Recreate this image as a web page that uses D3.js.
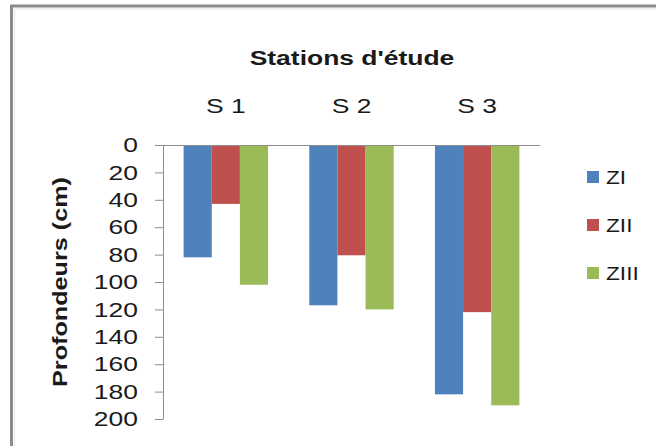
<!DOCTYPE html>
<html><head><meta charset="utf-8">
<script src="https://cdn.jsdelivr.net/npm/d3@7"></script>
<style>body{margin:0;background:#fff}svg{display:block}text{font-family:"Liberation Sans",Arial,sans-serif;fill:#1a1a1a}</style>
</head><body>
<script>
const categories = ["S 1", "S 2", "S 3"];
const seriesNames = ["ZI", "ZII", "ZIII"];
const ZI = [82, 117, 182];
const ZII = [43, 80.5, 122];
const ZIII = [102, 120, 190];
const yTicks = [0, 20, 40, 60, 80, 100, 120, 140, 160, 180, 200];
const colors = ["#4f81bd", "#c0504d", "#9bbb59"];
const seriesValues = [ZI, ZII, ZIII];

const SX = 1.26; // horizontal text stretch of the original rendering
const W = 656, H = 446;
const svg = d3.select("body").append("svg").attr("width", W).attr("height", H);
svg.append("rect").attr("width", W).attr("height", H).attr("fill", "#fff");
// frame
svg.append("path").attr("d", `M11.5,${H+5} V6 H${W+5}`).attr("fill", "none").attr("stroke", "#8c8c8c").attr("stroke-width", 3);
svg.append("path").attr("d", `M14.5,${H+5} V9 H${W+5}`).attr("fill", "none").attr("stroke", "#e6e6e6").attr("stroke-width", 1);

const x0 = d3.scaleBand().domain(categories).range([163, 540]).paddingInner(0.328).paddingOuter(0.164);
const x1 = d3.scaleBand().domain(seriesNames).range([0, x0.bandwidth()]);
const y = d3.scaleLinear().domain([0, 200]).range([145, 419]);

// bars
categories.forEach((c, i) => {
  seriesNames.forEach((s, j) => {
    svg.append("rect")
      .attr("x", x0(c) + x1(s))
      .attr("y", y(0))
      .attr("width", x1.bandwidth())
      .attr("height", y(seriesValues[j][i]) - y(0))
      .attr("fill", colors[j]);
  });
});

// y axis
const yAxis = svg.append("g").attr("transform", "translate(163,0)")
  .call(d3.axisLeft(y).tickValues(yTicks).tickSize(8).tickSizeOuter(0).tickPadding(17));
yAxis.select(".domain").attr("stroke", "#8c8c8c");
yAxis.selectAll(".tick line").attr("stroke", "#8c8c8c");
yAxis.selectAll("text").attr("font-size", 21).attr("fill", "#1a1a1a")
  .attr("font-family", "Liberation Sans, Arial, sans-serif")
  .attr("x", 0).attr("transform", `translate(-25,0) scale(${SX},1)`);

// top horizontal axis line at 0
svg.append("line").attr("x1", 155).attr("x2", 540).attr("y1", y(0) + 0.5).attr("y2", y(0) + 0.5).attr("stroke", "#8c8c8c");

// category labels on top
svg.selectAll(".cat").data(categories).enter().append("text")
  .attr("transform", d => `translate(${x0(d) + x0.bandwidth() / 2},113) scale(${SX},1)`)
  .attr("text-anchor", "middle")
  .attr("font-size", 21)
  .text(d => d);

// title
svg.append("text").attr("transform", `translate(352,65) scale(${SX},1)`).attr("text-anchor", "middle")
  .attr("font-size", 21).attr("font-weight", "bold").text("Stations d'étude");

// y title
svg.append("text").attr("transform", `translate(67,282) rotate(-90) scale(${SX},1)`).attr("text-anchor", "middle")
  .attr("font-size", 20).attr("font-weight", "bold").text("Profondeurs (cm)");

// legend
const leg = svg.selectAll(".leg").data(seriesNames).enter().append("g")
  .attr("transform", (d, i) => `translate(587,${177 + i * 48})`);
leg.append("rect").attr("x", 0).attr("y", -6).attr("width", 12).attr("height", 12).attr("fill", (d, i) => colors[i]);
leg.append("text").attr("transform", `translate(19,6.5) scale(${SX},1)`).attr("font-size", 18).text(d => d);
</script>
</body></html>
